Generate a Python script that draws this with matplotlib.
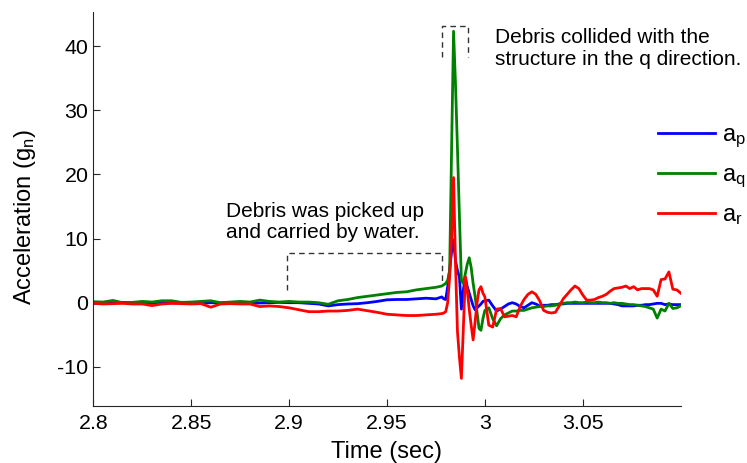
import numpy as np
import matplotlib
matplotlib.use('Agg')
import matplotlib.pyplot as plt

plt.rcParams['font.family'] = 'Liberation Sans'
plt.rcParams['mathtext.fontset'] = 'custom'
plt.rcParams['mathtext.rm'] = 'Liberation Sans'
plt.rcParams['mathtext.it'] = 'Liberation Sans'
plt.rcParams['axes.unicode_minus'] = False

# sample times (sec): coarse before the impact, fine around it
t = np.round(np.concatenate([2.8 + 0.005 * np.arange(36),
                             2.978 + 0.001 * np.arange(23),
                             3.002 + 0.002 * np.arange(50)]), 4)

a_p = [-0.1, 0.0, -0.05, 0.05, 0.0, -0.1, 0.0, 0.05, -0.05, 0.0,
       0.05, -0.1, 0.0, -0.05, 0.0, 0.05, -0.05, -0.05, 0.0, 0.05,
       0.0, 0.0, -0.1, -0.2, -0.5, -0.3, -0.2, -0.15, 0.0, 0.2,
       0.45, 0.5, 0.5, 0.6, 0.7, 0.6,
       0.9, 0.6, 0.5, 2.5, 5.0, 8.0, 9.8, 6.5, 5.0, 4.0,
       -1.0, 2.0, 4.0, 2.5, 1.5, 0.5, -0.5, -1.1, -0.8, -0.5,
       -0.2, 0.2, 0.3,
       0.4, -0.5, -1.3, -1.0, -0.6, -0.2, 0.0, -0.2, -0.6, -0.8,
       -0.4, 0.0, -0.2, -0.5, -0.4, -0.4, -0.3, -0.3, -0.2, -0.2,
       -0.1, -0.1, -0.1, -0.1, -0.1, -0.1, -0.1, -0.1, -0.1, -0.1,
       -0.1, -0.1, -0.2, -0.3, -0.5, -0.5, -0.5, -0.5, -0.4, -0.4,
       -0.3, -0.3, -0.2, -0.1, -0.1, -0.3, -0.2, -0.3, -0.3, -0.3]

a_q = [0.15, 0.1, 0.35, 0.0, 0.05, 0.2, 0.1, 0.3, 0.3, 0.05,
       0.1, 0.2, 0.3, 0.0, 0.1, 0.2, 0.1, 0.4, 0.2, 0.1,
       0.2, 0.1, 0.1, 0.0, -0.25, 0.3, 0.5, 0.8, 1.0, 1.2,
       1.4, 1.6, 1.7, 2.0, 2.2, 2.4,
       2.6, 2.8, 3.0, 3.5, 5.0, 24.0, 42.3, 34.0, 24.0, 13.5,
       3.5, 3.0, 4.5, 6.0, 7.0, 5.5, 3.0, 1.0, -1.5, -4.0,
       -4.3, -2.5, -1.2,
       -0.8, -2.5, -3.6, -2.5, -1.9, -1.6, -1.3, -1.3, -1.2, -1.2,
       -1.0, -0.8, -0.7, -0.6, -0.6, -0.5, -0.5, -0.4, -0.2, -0.1,
       0.0, 0.0, 0.1, 0.0, 0.0, 0.1, 0.0, 0.0, 0.1, 0.0,
       0.0, -0.1, 0.0, -0.1, -0.1, -0.2, -0.3, -0.3, -0.4, -0.5,
       -0.6, -0.8, -1.0, -2.4, -1.0, -1.3, -0.1, -0.9, -0.8, -0.5]

a_r = [-0.1, -0.2, -0.15, -0.1, -0.2, -0.2, -0.45, -0.2, -0.1, -0.15,
       -0.2, -0.15, -0.7, -0.2, -0.15, -0.2, -0.2, -0.6, -0.5, -0.6,
       -0.8, -1.1, -1.4, -1.4, -1.3, -1.3, -1.2, -1.0, -1.25, -1.5,
       -1.8, -1.9, -2.0, -2.0, -1.9, -1.8,
       -1.7, -1.6, -1.4, 0.0, 4.0, 10.0, 19.5, 6.0, -4.5, -8.5,
       -11.8, -4.0, 4.0, 2.0, -1.0, -3.5, -5.8, -3.0, 0.0, 2.0,
       2.5, 1.5, 0.9,
       -3.5, -3.8, -1.0, -0.9, -2.2, -2.1, -2.0, -2.2, -0.6, 0.5,
       1.3, 1.7, 1.3, 0.3, -1.2, -1.5, -1.6, -1.5, -0.5, 0.6,
       1.3, 2.0, 2.6, 2.2, 1.2, 0.4, 0.4, 0.5, 0.8, 1.0,
       1.3, 1.8, 2.2, 2.3, 2.4, 2.6, 2.2, 2.5, 2.0, 2.2,
       2.2, 2.2, 2.0, 1.0, 3.6, 3.7, 4.8, 2.1, 2.0, 1.5]

xticks = [2.8, 2.85, 2.9, 2.95, 3.0, 3.05]
xticklabels = ['2.8', '2.85', '2.9', '2.95', '3', '3.05']
yticks = [-10, 0, 10, 20, 30, 40]

fig = plt.figure(figsize=(7.47, 4.63), dpi=100)
ax = fig.add_axes([0.1249, 0.1238, 0.7863, 0.8502])

ax.plot(t, a_p, color='#0000ff', lw=2, label=r'$\mathregular{a_p}$')
ax.plot(t, a_q, color='#008000', lw=2, label=r'$\mathregular{a_q}$')
ax.plot(t, a_r, color='#ff0000', lw=2, label=r'$\mathregular{a_r}$')

# dashed callout boxes
ax.plot([2.899, 2.899, 2.978, 2.978], [2.0, 7.7, 7.7, 3.0],
        color='#333333', lw=1, dashes=(4, 3))
ax.plot([2.978, 2.978, 2.9914, 2.9914], [38.3, 43.2, 43.2, 38.3],
        color='#333333', lw=1, dashes=(4, 3))

ax.set_xlim(2.8, 3.1)
ax.set_ylim(-16.05, 45.3)
ax.set_xticks(xticks)
ax.set_xticklabels(xticklabels)
ax.set_yticks(yticks)
ax.spines['top'].set_visible(False)
ax.spines['right'].set_visible(False)
for s in ['left', 'bottom']:
    ax.spines[s].set_color('#262626')
    ax.spines[s].set_linewidth(0.8)
ax.tick_params(direction='in', length=5, width=0.8, colors='#262626',
               labelcolor='black', labelsize=15.4)
ax.tick_params(axis='x', pad=6)
ax.tick_params(axis='y', pad=3.5)

ax.set_xlabel('Time (sec)', fontsize=17)
ax.set_ylabel(r'Acceleration (g$_\mathregular{n}$)', fontsize=17)
ax.xaxis.set_label_coords(0.5, -0.09)
ax.yaxis.set_label_coords(-0.094, 0.48)

# baseline of the last line is placed
fig.text(226 / 747, 1 - 238.3 / 463, 'Debris was picked up\nand carried by water.',
         fontsize=15, va='baseline', ha='left', linespacing=1.18)
fig.text(495 / 747, 1 - 65 / 463, 'Debris collided with the\nstructure in the q direction.',
         fontsize=15, va='baseline', ha='left', linespacing=1.18)

ax.legend(loc='center left', bbox_to_anchor=(658 / 747, 1 - 175.5 / 463),
          bbox_transform=fig.transFigure, frameon=False, fontsize=17,
          borderpad=0, borderaxespad=0, handlelength=2.4, handletextpad=0.3,
          labelspacing=0.6)

fig.savefig('out.png', dpi=100)
